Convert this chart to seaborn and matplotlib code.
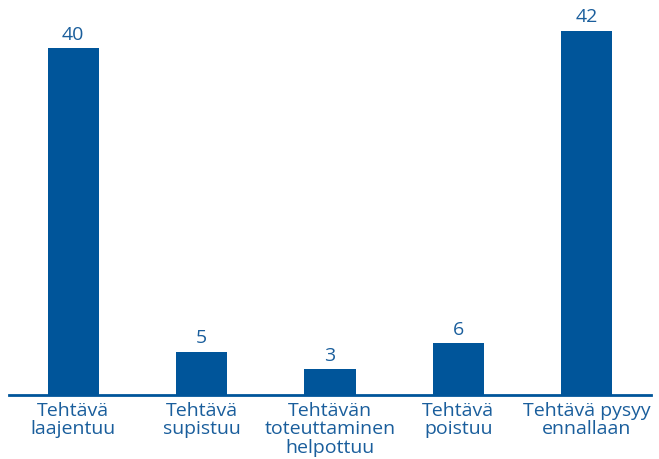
import pandas as pd
import matplotlib.pyplot as plt
import seaborn as sns

# data
categories = ["Tehtävä\nlaajentuu", "Tehtävä\nsupistuu", "Tehtävän\ntoteuttaminen\nhelpottuu",
              "Tehtävä\npoistuu", "Tehtävä pysyy\nennallaan"]
values = [40, 5, 3, 6, 42]

df = pd.DataFrame({"cat": categories, "val": values})

bar_color = "#00559a"
text_color = "#1a5e9c"

sns.set_style("white")
plt.rcParams['font.family'] = ['Open Sans', 'DejaVu Sans']

fig = plt.figure(figsize=(6.59, 4.60), dpi=100)
ax = fig.add_axes([0.0137, 0.139, 0.974, 0.849])

sns.barplot(data=df, x="cat", y="val", color=bar_color, width=0.4, ax=ax,
            saturation=1, edgecolor="none")

for i, v in enumerate(values):
    ax.text(i, v + 0.6, str(v), ha="center", va="bottom", fontsize=14, color=text_color)

ax.set_xlim(-0.5, 4.5)
ax.set_ylim(0, 45)
ax.set_xlabel("")
ax.set_ylabel("")
ax.set_yticks([])
ax.tick_params(axis="x", length=0, pad=4, labelsize=14, labelcolor=text_color)
for lbl in ax.get_xticklabels():
    lbl.set_linespacing(1.05)
    lbl.set_verticalalignment("top")

for s in ["top", "right", "left"]:
    ax.spines[s].set_visible(False)
ax.spines["bottom"].set_color(bar_color)
ax.spines["bottom"].set_linewidth(2)

plt.savefig("out.png", dpi=100)
print("Generated out.png")
